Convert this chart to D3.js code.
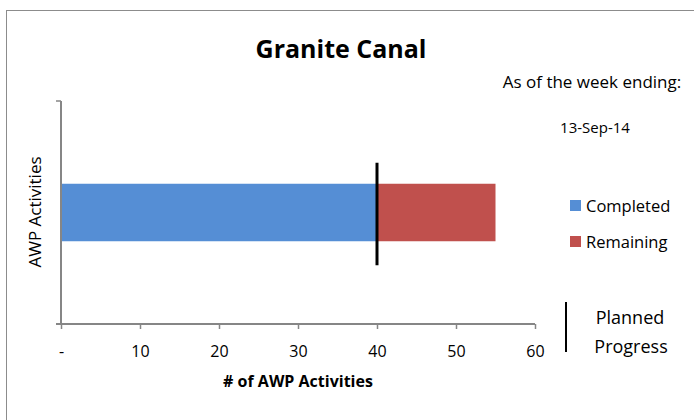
<!DOCTYPE html>
<html lang="en">
<head>
<meta charset="utf-8">
<title>Granite Canal</title>
<script src="https://d3js.org/d3.v7.min.js"></script>
<style>
  body { margin: 0; background: #fff; }
  text { font-family: "Open Sans", "Noto Sans", sans-serif; fill: #000; }
</style>
</head>
<body>
<div id="chart"></div>
<script>
// data
var categories = ["AWP Activities"];
var completed = [40];
var remaining = [15];
var planned = [40];
var xTicks = [0, 10, 20, 30, 40, 50, 60];
var seriesNames = ["Completed", "Remaining"];
var seriesColors = ["#558ED5", "#C0504D"];

var W = 694, H = 420;
var plot = {left: 61, right: 535, top: 101, bottom: 324};

var svg = d3.select("#chart").append("svg")
  .attr("width", W).attr("height", H);

// outer chart border
svg.append("rect")
  .attr("x", 6.5).attr("y", 10.5)
  .attr("width", 720).attr("height", 440)
  .attr("fill", "none").attr("stroke", "#8c8c8c").attr("stroke-width", 1);

var x = d3.scaleLinear().domain([0, 60]).range([plot.left, plot.right]);
var y = d3.scaleBand().domain(categories).range([plot.bottom, plot.top]).padding(0.59);

// bars (stacked)
var stacked = categories.map(function(c, i) {
  return [
    {cat: c, x0: 0, x1: completed[i], color: seriesColors[0]},
    {cat: c, x0: completed[i], x1: completed[i] + remaining[i], color: seriesColors[1]}
  ];
}).flat();

svg.selectAll(".bar").data(stacked).enter().append("rect")
  .attr("class", "bar")
  .attr("x", function(d) { return x(d.x0); })
  .attr("y", function(d) { return y(d.cat); })
  .attr("width", function(d) { return x(d.x1) - x(d.x0); })
  .attr("height", y.bandwidth())
  .attr("fill", function(d) { return d.color; });

// x axis
var xAxis = d3.axisBottom(x).tickValues(xTicks).tickSize(5)
  .tickFormat(function(d) { return d === 0 ? "-" : d; });
var gx = svg.append("g")
  .attr("transform", "translate(0," + plot.bottom + ")")
  .call(xAxis);
gx.select(".domain").remove();
gx.append("line").attr("x1", plot.left - 5).attr("x2", plot.right)
  .attr("stroke", "#868686").attr("stroke-width", 2);
gx.selectAll(".tick line").attr("stroke", "#868686").attr("stroke-width", 1.5);
gx.selectAll(".tick text")
  .attr("y", 22).attr("font-size", "16px")
  .style("font-family", "'Open Sans', sans-serif").attr("fill", "#000");

// y axis
var gy = svg.append("g");
gy.append("line").attr("x1", plot.left).attr("x2", plot.left)
  .attr("y1", plot.top).attr("y2", plot.bottom)
  .attr("stroke", "#868686").attr("stroke-width", 2);
gy.append("line").attr("x1", plot.left - 5).attr("x2", plot.left)
  .attr("y1", plot.top).attr("y2", plot.top)
  .attr("stroke", "#868686").attr("stroke-width", 1.5);

// planned progress marker
svg.selectAll(".plan").data(categories).enter().append("line")
  .attr("class", "plan")
  .attr("x1", function(d, i) { return x(planned[i]); })
  .attr("x2", function(d, i) { return x(planned[i]); })
  .attr("y1", function(d) { return y(d) - 21; })
  .attr("y2", function(d) { return y(d) + y.bandwidth() + 24; })
  .attr("stroke", "#000").attr("stroke-width", 3);

// titles
svg.append("text").attr("x", 341).attr("y", 58)
  .attr("text-anchor", "middle").attr("font-size", "25px").attr("font-weight", 700)
  .text("Granite Canal");

svg.append("text").attr("x", 592).attr("y", 88)
  .attr("text-anchor", "middle").attr("font-size", "17px")
  .text("As of the week ending:");

svg.append("text").attr("x", 595).attr("y", 133)
  .attr("text-anchor", "middle").attr("font-size", "15px")
  .text("13-Sep-14");

svg.append("text").attr("x", 298).attr("y", 387)
  .attr("text-anchor", "middle").attr("font-size", "16px").attr("font-weight", 700)
  .text("# of AWP Activities");

svg.append("text")
  .attr("transform", "translate(41,212) rotate(-90)")
  .attr("text-anchor", "middle").attr("font-size", "17px")
  .text("AWP Activities");

// legend
var legend = svg.selectAll(".legend").data(seriesNames).enter().append("g")
  .attr("class", "legend")
  .attr("transform", function(d, i) { return "translate(570," + (200 + i * 36) + ")"; });
legend.append("rect").attr("width", 11).attr("height", 11)
  .attr("fill", function(d, i) { return seriesColors[i]; });
legend.append("text").attr("x", 16).attr("y", 12)
  .attr("font-size", "16.5px").text(function(d) { return d; });

// planned progress legend
svg.append("line").attr("x1", 566).attr("x2", 566).attr("y1", 302).attr("y2", 352)
  .attr("stroke", "#000").attr("stroke-width", 2);
svg.append("text").attr("x", 630).attr("y", 324)
  .attr("text-anchor", "middle").attr("font-size", "18px").text("Planned");
svg.append("text").attr("x", 631).attr("y", 353)
  .attr("text-anchor", "middle").attr("font-size", "18px").text("Progress");
</script>
</body>
</html>
